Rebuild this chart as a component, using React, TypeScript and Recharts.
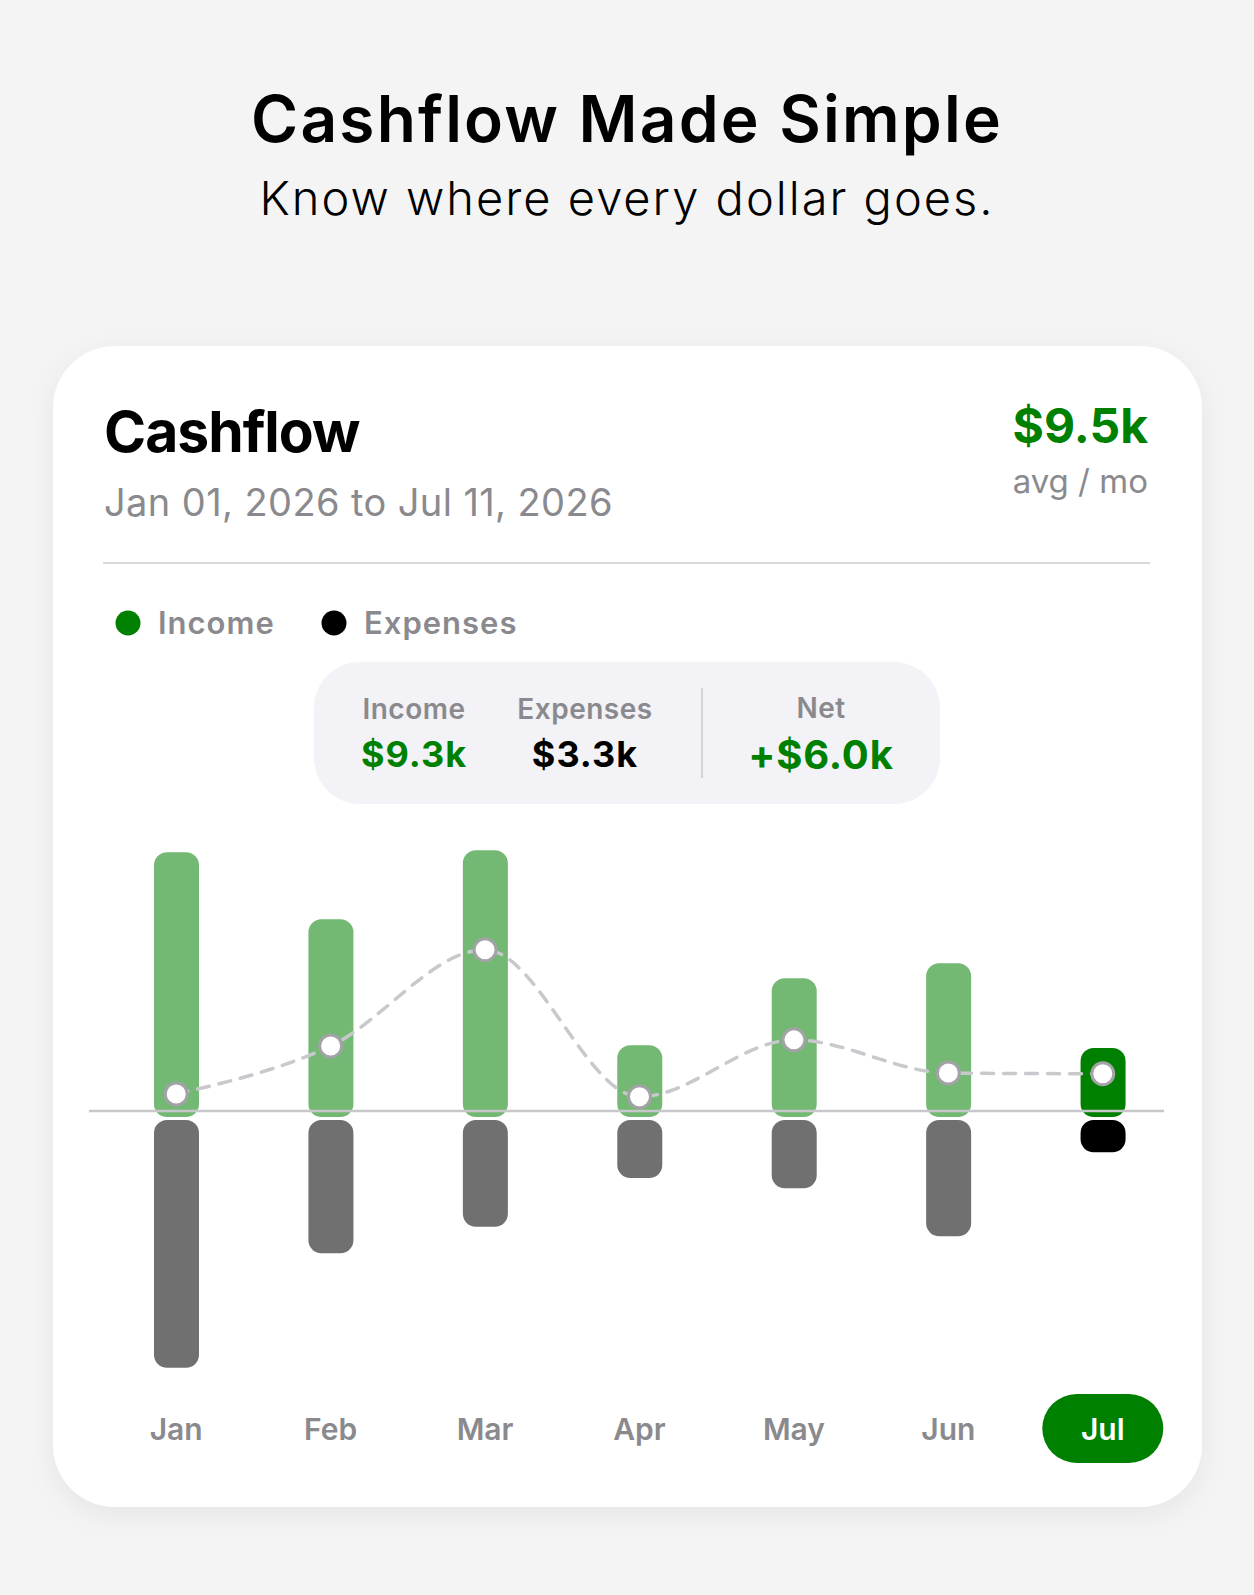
import React from 'react';
import { ComposedChart, Bar, Line, XAxis, YAxis, ReferenceLine } from 'recharts';

// ---- data (values in $k) ----
const months = ['Jan', 'Feb', 'Mar', 'Apr', 'May', 'Jun', 'Jul'];
const incomeValues = [38.2, 28.3, 38.5, 9.7, 19.6, 21.8, 9.3];
const expenseValues = [37.9, 21.0, 17.1, 9.9, 11.4, 18.5, 6.1];
const netValues = [2.5, 9.6, 23.8, 2.1, 10.5, 5.6, 5.5];
const selectedMonth = 'Jul';
const yDomain = [-40, 40];

const pageTitle = 'Cashflow Made Simple';
const pageSubtitle = 'Know where every dollar goes.';
const cardTitle = 'Cashflow';
const dateRange = 'Jan 01, 2026 to Jul 11, 2026';
const avgValue = '$9.5k';
const avgLabel = 'avg / mo';
const legendItems = [
  { label: 'Income', color: '#008000' },
  { label: 'Expenses', color: '#000000' },
];
const summaryIncome = '$9.3k';
const summaryExpenses = '$3.3k';
const summaryNet = '+$6.0k';

const data = months.map((m, i) => ({
  month: m,
  income: incomeValues[i],
  expense: -expenseValues[i],
  net: netValues[i],
}));

const FONT = 'Inter, "Noto Sans", sans-serif';
const GREEN = '#008000';
const LIGHT_GREEN = '#73b873';
const GRAY_BAR = '#707070';
const GRAY_TEXT = '#8a8a8e';

const roundedRectPath = (x: number, y: number, w: number, h: number, r: number) => {
  const rr = Math.max(0, Math.min(r, w / 2, h / 2));
  return `M${x + rr},${y} H${x + w - rr} A${rr},${rr} 0 0 1 ${x + w},${y + rr} V${y + h - rr} A${rr},${rr} 0 0 1 ${x + w - rr},${y + h} H${x + rr} A${rr},${rr} 0 0 1 ${x},${y + h - rr} V${y + rr} A${rr},${rr} 0 0 1 ${x + rr},${y} Z`;
};

const IncomeShape = (props: any) => {
  const { x, y, width, height, payload } = props;
  const top = Math.min(y, y + height);
  const h = Math.abs(height);
  const sel = payload && payload.month === selectedMonth;
  return <path d={roundedRectPath(x, top, width, h + 6, 13)} fill={sel ? GREEN : LIGHT_GREEN} />;
};

const ExpenseShape = (props: any) => {
  const { x, y, width, height, payload } = props;
  const top = Math.min(y, y + height);
  const h = Math.abs(height);
  const sel = payload && payload.month === selectedMonth;
  return <path d={roundedRectPath(x, top + 9, width, Math.max(h - 9, 20), 13)} fill={sel ? '#000000' : GRAY_BAR} />;
};

const ZeroLine = (props: any) => {
  const { x1, y1, x2, y2 } = props;
  return <line x1={x1} y1={y1} x2={x2 - 16} y2={y2} stroke="#c7c7cc" strokeWidth={2.5} />;
};

const NetDot = (props: any) => {
  const { cx, cy, index } = props;
  if (cx == null || cy == null) return <g key={`d${index}`} />;
  return (
    <circle key={`d${index}`} cx={cx} cy={cy} r={11} fill="#ffffff" stroke="#a2a2a7" strokeWidth={3} />
  );
};

const MonthTick = (props: any) => {
  const { x, y, payload } = props;
  const sel = payload.value === selectedMonth;
  return (
    <g>
      {sel && <rect x={x - 60.5} y={y + 12} width={121} height={69} rx={34.5} fill={GREEN} />}
      <text x={x} y={y + 58} textAnchor="middle" fontFamily={FONT} fontWeight={600} fontSize={30} fill={sel ? '#ffffff' : GRAY_TEXT}>
        {payload.value}
      </text>
    </g>
  );
};

export default function App() {
  return (
    <div style={{ position: 'absolute', left: 0, top: 0, width: 1254, height: 1595, background: '#f4f4f4', overflow: 'hidden' }}>
      <svg width={1254} height={1595} style={{ position: 'absolute', left: 0, top: 0 }}>
        <defs>
          <filter id="cardShadow" x="-10%" y="-10%" width="120%" height="120%">
            <feDropShadow dx="0" dy="8" stdDeviation="14" floodColor="#000" floodOpacity="0.06" />
          </filter>
        </defs>
        <text x={627} y={142} textAnchor="middle" fontFamily={FONT} fontWeight={600} fontSize={64} letterSpacing={2.2} fill="#000">{pageTitle}</text>
        <text x={627} y={215} textAnchor="middle" fontFamily={FONT} fontWeight={300} fontSize={47} letterSpacing={2} fill="#000">{pageSubtitle}</text>

        <rect x={53} y={346} width={1149} height={1161} rx={62} fill="#fff" filter="url(#cardShadow)" />

        <text x={104} y={452} fontFamily={FONT} fontWeight={700} fontSize={57} letterSpacing={-1} fill="#000">{cardTitle}</text>
        <text x={104} y={516} fontFamily={FONT} fontWeight={400} fontSize={38} letterSpacing={0.4} fill={GRAY_TEXT}>{dateRange}</text>
        <text x={1148} y={443} textAnchor="end" fontFamily={FONT} fontWeight={700} fontSize={48} fill={GREEN}>{avgValue}</text>
        <text x={1148} y={493} textAnchor="end" fontFamily={FONT} fontWeight={400} fontSize={33} fill={GRAY_TEXT}>{avgLabel}</text>
        <line x1={103} y1={563} x2={1150} y2={563} stroke="#d9d9de" strokeWidth={2} />

        <circle cx={128} cy={623} r={12.5} fill={legendItems[0].color} />
        <text x={158} y={634} fontFamily={FONT} fontWeight={600} fontSize={31} letterSpacing={1} fill={GRAY_TEXT}>{legendItems[0].label}</text>
        <circle cx={334} cy={623} r={12.5} fill={legendItems[1].color} />
        <text x={364} y={634} fontFamily={FONT} fontWeight={600} fontSize={31} letterSpacing={1} fill={GRAY_TEXT}>{legendItems[1].label}</text>

        <rect x={314} y={662} width={626} height={142} rx={46} fill="#f2f2f7" />
        <text x={414} y={719} textAnchor="middle" fontFamily={FONT} fontWeight={600} fontSize={28} letterSpacing={0.5} fill={GRAY_TEXT}>Income</text>
        <text x={414} y={767} textAnchor="middle" fontFamily={FONT} fontWeight={700} fontSize={36} letterSpacing={1} fill={GREEN}>{summaryIncome}</text>
        <text x={585} y={719} textAnchor="middle" fontFamily={FONT} fontWeight={600} fontSize={28} letterSpacing={0.5} fill={GRAY_TEXT}>Expenses</text>
        <text x={585} y={767} textAnchor="middle" fontFamily={FONT} fontWeight={700} fontSize={36} letterSpacing={1} fill="#000">{summaryExpenses}</text>
        <line x1={702} y1={688} x2={702} y2={778} stroke="#c7c7cc" strokeWidth={1.5} />
        <text x={821} y={718} textAnchor="middle" fontFamily={FONT} fontWeight={600} fontSize={28} letterSpacing={0.5} fill={GRAY_TEXT}>Net</text>
        <text x={821} y={769} textAnchor="middle" fontFamily={FONT} fontWeight={700} fontSize={40} letterSpacing={0.8} fill={GREEN}>{summaryNet}</text>
      </svg>

      <div style={{ position: 'absolute', left: 0, top: 0 }}>
        <ComposedChart
          width={1254}
          height={1595}
          data={data}
          stackOffset="sign"
          margin={{ top: 840, right: 74, bottom: 153, left: 89 }}
        >
          <XAxis
            dataKey="month"
            axisLine={false}
            tickLine={false}
            tickSize={0}
            tickMargin={0}
            height={60}
            interval={0}
            padding={{ left: 10, right: 0 }}
            tick={<MonthTick />}
          />
          <YAxis hide domain={yDomain} />
          <Bar dataKey="income" stackId="cf" barSize={45} shape={IncomeShape} isAnimationActive={false} />
          <Bar dataKey="expense" stackId="cf" barSize={45} shape={ExpenseShape} isAnimationActive={false} />
          <ReferenceLine y={0} shape={ZeroLine} />
          <Line
            dataKey="net"
            type="monotone"
            stroke="#c8c8cd"
            strokeWidth={3.5}
            strokeDasharray="12 10"
            strokeLinecap="round"
            dot={NetDot}
            activeDot={false}
            isAnimationActive={false}
          />
        </ComposedChart>
      </div>
    </div>
  );
}
